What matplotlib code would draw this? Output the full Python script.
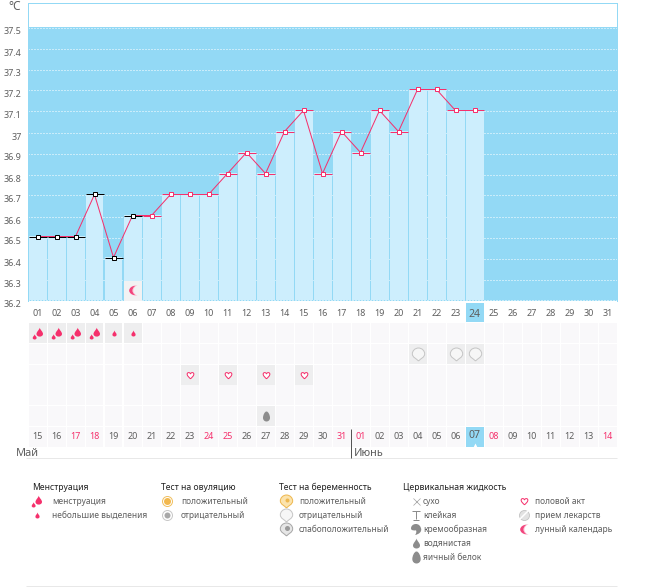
import matplotlib
matplotlib.use("Agg")
import matplotlib.pyplot as plt
import numpy as np
from matplotlib.path import Path
from matplotlib.transforms import Affine2D

plt.rcParams["font.family"] = ["Noto Sans", "DejaVu Sans"]

W, H = 655, 587

days = list(range(1, 32))
top_labels = [f"{d:02d}" for d in days]
temp_days = list(range(1, 25))
temps = [36.5, 36.5, 36.5, 36.7, 36.4, 36.6, 36.6, 36.7, 36.7, 36.7, 36.8, 36.9,
         36.8, 37.0, 37.1, 36.8, 37.0, 36.9, 37.1, 37.0, 37.2, 37.2, 37.1, 37.1]
black_days = [1, 2, 3, 4, 5, 6]
y_ticks = [36.2, 36.3, 36.4, 36.5, 36.6, 36.7, 36.8, 36.9, 37.0, 37.1, 37.2, 37.3, 37.4, 37.5]
y_labels = ["36.2", "36.3", "36.4", "36.5", "36.6", "36.7", "36.8", "36.9", "37",
            "37.1", "37.2", "37.3", "37.4", "37.5"]
bottom_labels = ["15", "16", "17", "18", "19", "20", "21", "22", "23", "24", "25", "26", "27", "28", "29",
                 "30", "31", "01", "02", "03", "04", "05", "06", "07", "08", "09", "10", "11", "12", "13", "14"]
red_bottom_days = [3, 4, 10, 11, 17, 18, 25, 31]
today = 24
moon_days = [6]
heavy_days = [1, 2, 3, 4]
light_days = [5, 6]
preg_neg_days = [21, 23, 24]
sex_days = [9, 11, 13, 15]
egg_days = [13]

BLUE = "#93d9f5"
BAR = "#cdeefd"
PINK = "#f5306c"
GRAY = "#5e5e5e"
DARK = "#222222"
CELL = "#f9f8fa"
ACTIVE = "#eeeeef"
ICON = "#8c8c8c"


def px(n):
    return n * 0.72


def axes_px(left, top, right, bottom):
    return fig.add_axes([left / W, 1 - bottom / H, (right - left) / W, (bottom - top) / H])


def scaled(path, sx, sy, dx=0, dy=0):
    return path.transformed(Affine2D().scale(sx, sy).translate(dx, dy))


C = Path.CURVE4
DROP = Path([(0, 1), (0.1, 0.5), (0.7, 0.1), (0.7, -0.4), (0.7, -0.8), (0.35, -1), (0, -1),
             (-0.35, -1), (-0.7, -0.8), (-0.7, -0.4), (-0.7, 0.1), (-0.1, 0.5), (0, 1)],
            [Path.MOVETO] + [C] * 12)
HEAVY = Path.make_compound_path(scaled(DROP, 0.75, 0.72, 0.2, 0.22), scaled(DROP, 0.45, 0.42, -0.62, -0.55))
HEART = Path([(0, -1), (-0.5, -0.5), (-1, -0.1), (-1, 0.4), (-1, 1), (-0.25, 1.05), (0, 0.5),
              (0.25, 1.05), (1, 1), (1, 0.4), (1, -0.1), (0.5, -0.5), (0, -1)],
             [Path.MOVETO] + [C] * 12)
EGG = Path([(0, 1), (0.4, 1), (0.7, 0.2), (0.7, -0.25), (0.7, -0.75), (0.35, -1), (0, -1),
            (-0.35, -1), (-0.7, -0.75), (-0.7, -0.25), (-0.7, 0.2), (-0.4, 1), (0, 1)],
           [Path.MOVETO] + [C] * 12)
BALLOON = Path([(0, -1), (-0.3, -0.65), (-0.95, -0.45), (-0.95, 0.1), (-0.95, 0.6), (-0.5, 1), (0, 1),
                (0.5, 1), (0.95, 0.6), (0.95, 0.1), (0.95, -0.45), (0.3, -0.65), (0, -1)],
               [Path.MOVETO] + [C] * 12)
MOON = Path([(0.75, 1), (-0.15, 1), (-0.8, 0.5), (-0.8, 0), (-0.8, -0.5), (-0.15, -1), (0.75, -1),
             (0.2, -0.7), (0, -0.3), (0, 0), (0, 0.3), (0.2, 0.7), (0.75, 1)],
            [Path.MOVETO] + [C] * 12)
CREAM = Path([(-0.1, 1), (-0.7, 1), (-1, 0.6), (-1, 0.2), (-1, -0.2), (-0.5, -0.2), (-0.1, -0.15),
              (0.05, -0.4), (-0.05, -0.7), (-0.25, -1), (0.5, -0.85), (0.95, -0.4), (0.85, 0.1),
              (0.75, 0.65), (0.4, 1), (-0.1, 1)],
             [Path.MOVETO] + [C] * 15)
GOBLET = Path([(-0.8, 1), (0.8, 1), (0, 1), (0, -0.9), (-0.7, -1), (0.7, -1)],
              [Path.MOVETO, Path.LINETO, Path.MOVETO, Path.LINETO, Path.MOVETO, Path.LINETO])


def mark(ax, x, y, path, size, color, edge="none", mew=0, zorder=6):
    ax.plot(x, y, ls="none", marker=path, ms=px(size), mfc=color, mec=edge, mew=mew, zorder=zorder,
            clip_on=False)


def draw_moon(ax, x, y, size=11):
    mark(ax, x, y, MOON, size, "#fcc9d9", zorder=6)
    mark(ax, x, y, scaled(MOON, 0.72, 0.85, -0.2), size * 0.85, "#f2447c", zorder=7)


def draw_balloon(ax, x, y, size=13):
    mark(ax, x, y, BALLOON, size, "#f6f6f6", edge="#c6c6c6", mew=px(1))


fig = plt.figure(figsize=(W / 100, H / 100), dpi=100, facecolor="white")

# ---- temperature chart ----
# 21 px per 0.1 degree, with 36.2 on a pixel centre so the thin lines snap evenly
ax = axes_px(28, 3, 617, 301)
y_low = 36.2 - 0.5 / 210
ax.set_xlim(0.5, 31.5)
ax.set_ylim(y_low, y_low + 298 / 210)
lift = ax.transData + Affine2D().translate(0, 1)

ax.axhspan(y_low, 37.5, color=BLUE, lw=0, zorder=0)
ax.grid(axis="y", color="white", lw=px(1), ls=(0, (1, 2)), zorder=1)
ax.set_axisbelow(True)
ax.bar(temp_days, np.array(temps) - y_low, bottom=y_low, width=18 / 19, color=BAR, lw=0, zorder=2, transform=lift)
ax.bar(moon_days, 0.095, bottom=y_low, width=18 / 19, color="#f2f2f3", lw=0, zorder=3)
draw_moon(ax, moon_days, [36.25])

ax.plot(temp_days, temps, color=PINK, lw=px(1), zorder=4, transform=lift)
for d, t in zip(temp_days, temps):
    c = "black" if d in black_days else PINK
    ax.plot([d - 9 / 19, d + 9 / 19], [t, t], color=c, lw=px(1), solid_capstyle="butt", zorder=3, transform=lift)
    ax.plot([d], [t], ls="none", marker="s", ms=px(4.5), mfc="white", mec=c, mew=px(1), zorder=5, transform=lift)

ax.set_yticks(y_ticks, labels=y_labels)
ax.set_xticks(days, labels=top_labels)
ax.tick_params(length=0, labelsize=px(9), labelcolor=GRAY, pad=6)
ax.tick_params(axis="y", pad=4.5)
for lbl in ax.get_yticklabels():
    lbl.set_verticalalignment("top")
for lbl, d in zip(ax.get_xticklabels(), days):
    if d == today:
        lbl.set_fontsize(px(10.5))
ax.spines["bottom"].set_visible(False)
for s in ["left", "right", "top"]:
    ax.spines[s].set_color(BLUE)
    ax.spines[s].set_linewidth(px(1))

# ---- calendar rows ----
cal = axes_px(28, 323, 617, 447)
cal.set_xlim(0.5, 31.5)
cal.set_ylim(6.5, 0.5)
cal.axis("off")
for row in range(1, 7):
    cal.bar(days, 20 / 21, bottom=row - 10 / 21, width=18 / 19, color=CELL, lw=0, zorder=1)
for row, active in [(1, heavy_days + light_days), (2, preg_neg_days), (3, sex_days), (5, egg_days)]:
    cal.bar(active, 20 / 21, bottom=row - 10 / 21, width=18 / 19, color=ACTIVE, lw=0, zorder=2)

mark(cal, heavy_days, [1] * len(heavy_days), HEAVY, 12, PINK)
mark(cal, light_days, [1] * len(light_days), DROP, 6, PINK)
draw_balloon(cal, preg_neg_days, [2] * len(preg_neg_days))
mark(cal, sex_days, [3] * len(sex_days), HEART, 7, "white", edge=PINK, mew=px(1))
mark(cal, egg_days, [5] * len(egg_days), EGG, 10, ICON)

# highlighted current day, top and bottom
cal.bar([today], 20 / 21, bottom=-0.48, width=18 / 19, color=BLUE, lw=0, clip_on=False, zorder=1)
cal.bar([today], 20 / 21, bottom=6 - 10 / 21, width=18 / 19, color=BLUE, lw=0, zorder=3)
for d, txt in zip(days, bottom_labels):
    c = PINK if d in red_bottom_days else GRAY
    fs = 10.5 if d == today else 9
    cal.text(d, 6 - (0.05 if d == today else 0), txt, ha="center", va="center", color=c, fontsize=px(fs), zorder=4)
mark(cal, [today], [6.42], "^", 4, "white", zorder=5)

# chart tick labels have to sit above the highlighted cell
cal.set_zorder(1)
ax.set_zorder(2)

# ---- legend and month captions, in pixels ----
pix = fig.add_axes([0, 0, 1, 1], facecolor="none")
pix.set_zorder(3)
pix.set_xlim(0, W)
pix.set_ylim(H, 0)
pix.axis("off")

pix.hlines([458, 586], 26, 617, color="#e8e8e8", lw=px(1))
pix.vlines(350.5, 429, 458, color="#555555", lw=px(1))
pix.text(16, 453, "Май", color=GRAY, fontsize=px(11), va="center")
pix.text(354, 453, "Июнь", color=GRAY, fontsize=px(11), va="center")
pix.text(8, 7, "°C", color=GRAY, fontsize=px(12), va="center")

heads = [(32, "Менструация"), (161, "Тест на овуляцию"), (279, "Тест на беременность"), (403, "Цервикальная жидкость")]
for x, txt in heads:
    pix.text(x, 487, txt, color=DARK, fontsize=px(8.6), va="center")

entries = [
    (52, 501, "менструация"), (52, 515, "небольшие выделения"),
    (181, 501, "положительный"), (181, 515, "отрицательный"),
    (299, 501, "положительный"), (299, 515, "отрицательный"), (299, 529, "слабоположительный"),
    (423, 501, "сухо"), (423, 515, "клейкая"), (423, 529, "кремообразная"),
    (423, 543, "водянистая"), (423, 557, "яичный белок"),
    (535, 501, "половой акт"), (535, 515, "прием лекарств"), (535, 529, "лунный календарь"),
]
for x, y, txt in entries:
    pix.text(x, y, txt, color=GRAY, fontsize=px(8.4), va="center")

mark(pix, [37], [501], HEAVY, 12, PINK)
mark(pix, [37], [515], DROP, 6, PINK)
# ovulation tests
mark(pix, [167], [501], "o", 10, "white", edge="#f0c060", mew=px(1))
mark(pix, [167], [501], "o", 7, "#f2b84e")
mark(pix, [167], [515], "o", 10, "white", edge="#c8c8c8", mew=px(1))
mark(pix, [167], [515], "o", 6, "#a8a8a8")
# pregnancy tests
mark(pix, [286], [501], BALLOON, 13, "#fbe3ad", edge="#eeb850", mew=px(1))
mark(pix, [286.5], [500], "o", 4, "#eeb850", zorder=7)
draw_balloon(pix, [286], [515])
mark(pix, [286], [529], BALLOON, 13, "#e6e6e6", edge="#a8a8a8", mew=px(1))
mark(pix, [286.5], [528], "o", 5, "#9a9a9a", zorder=7)
# cervical fluid
mark(pix, [416], [501], "x", 7, "none", edge="#a0a0a0", mew=px(0.7))
pix.plot([416], [515], ls="none", marker=GOBLET, ms=px(9), mfc="none", mec=ICON, mew=px(1))
mark(pix, [415.5], [529], CREAM, 11, ICON)
mark(pix, [416], [543], DROP, 10, ICON)
mark(pix, [416], [557], EGG, 12, ICON)
# other
mark(pix, [524], [501], HEART, 7, "white", edge=PINK, mew=px(1))
mark(pix, [524], [515], "o", 10, "#e2e2e2", edge="#c0c0c0", mew=px(0.8))
pix.plot([520.5, 527.5], [518.5, 511.5], color="white", lw=px(1.5), zorder=7)
draw_moon(pix, [524], [529])

fig.savefig("out.png", dpi=100, facecolor="white")
